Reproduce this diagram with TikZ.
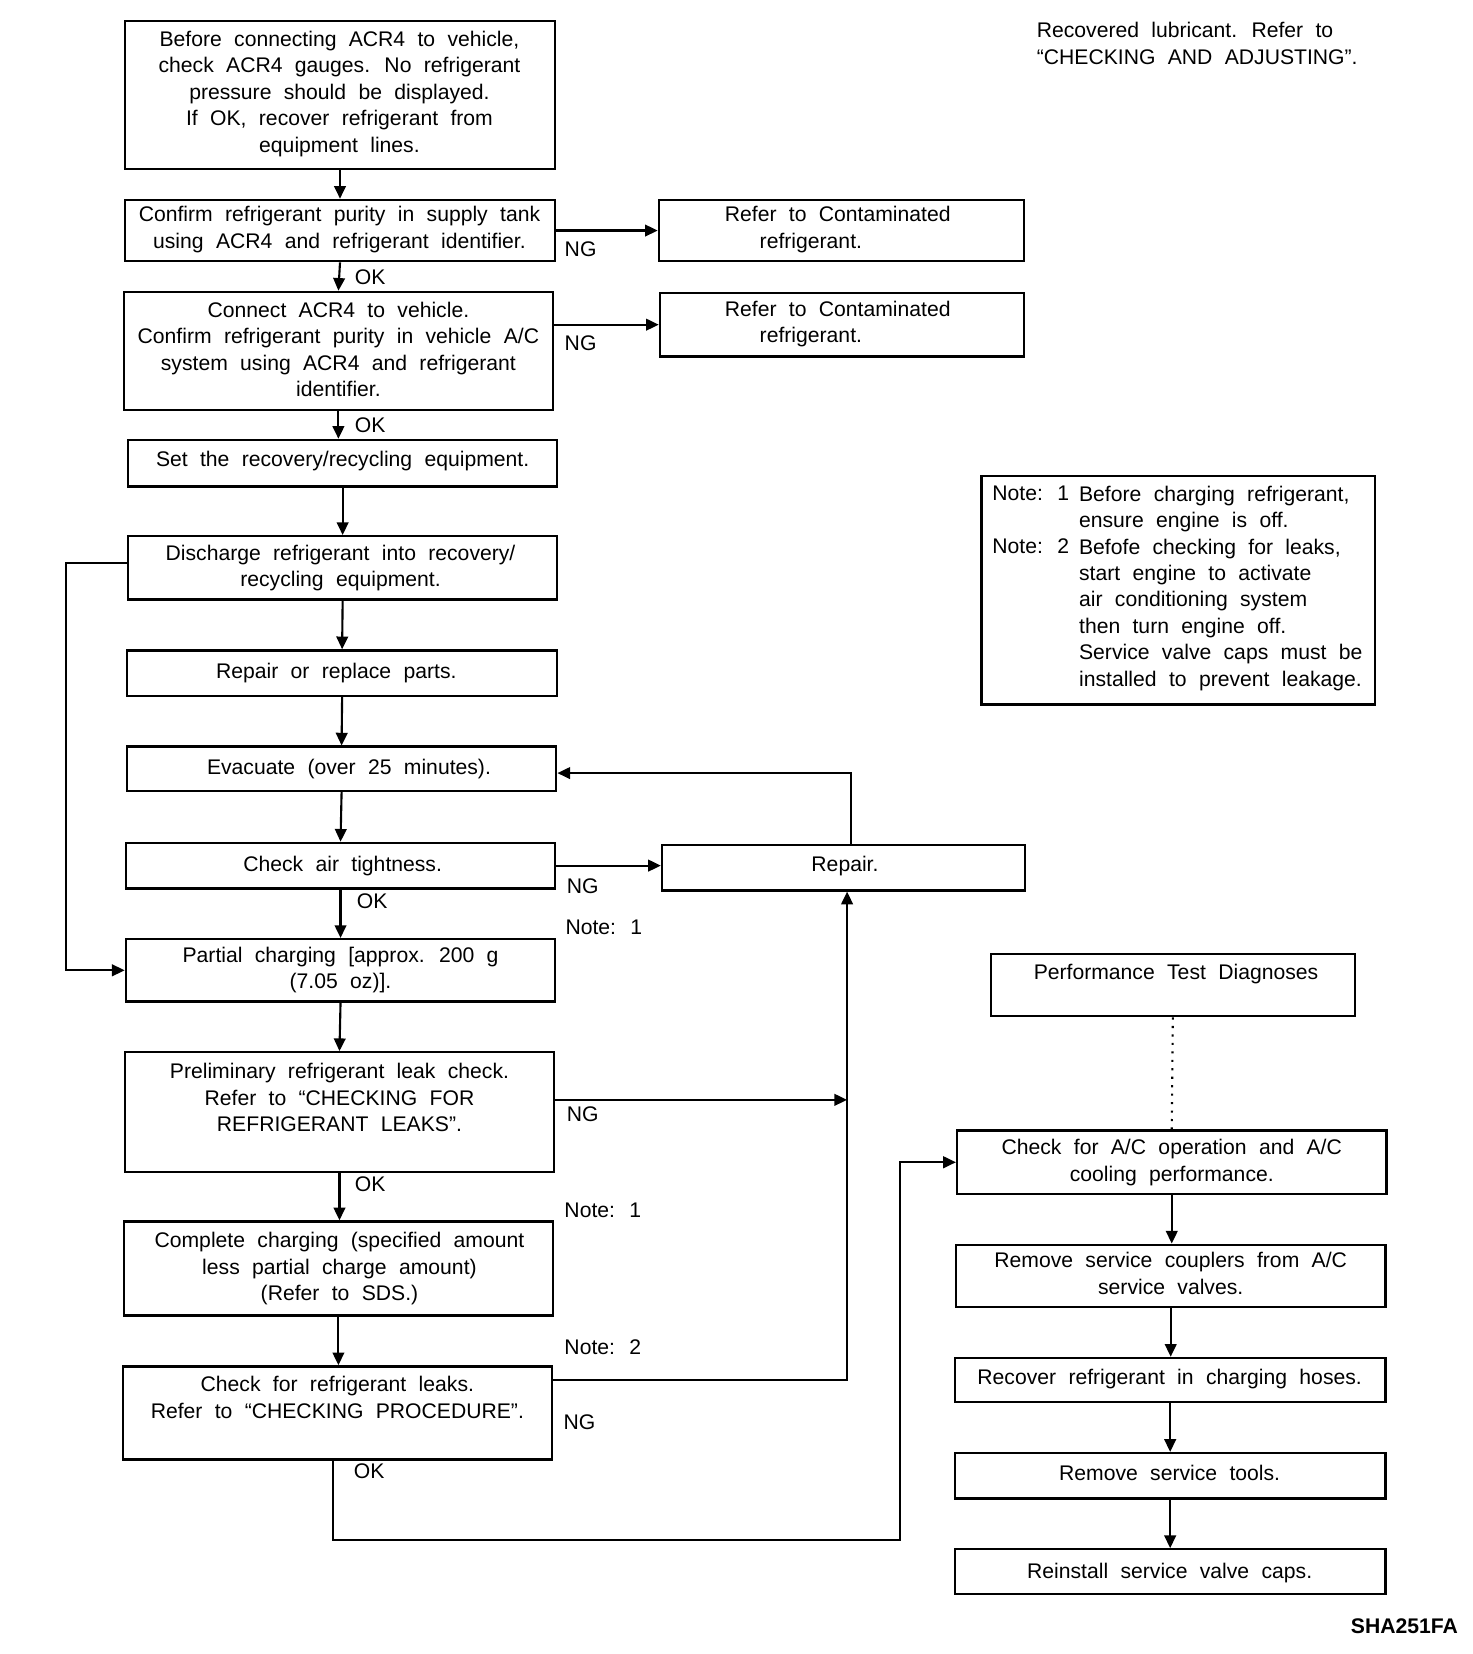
\documentclass[tikz,border=0pt]{standalone}
\usepackage{fontspec}
\setmainfont{Liberation Sans}[WordSpace=2.1]
\usetikzlibrary{arrows.meta,fit,calc}
\begin{document}
\begin{tikzpicture}[x=0.5pt,y=-0.5pt,
  box/.style={draw, line width=1.1pt, inner sep=0pt},
  txt/.style={font=\fontsize{10}{12.5}\selectfont, inner sep=0pt, align=center, anchor=north},
  ltxt/.style={font=\fontsize{10}{12.5}\selectfont, inner sep=0pt, align=left, anchor=north west},
  lbl/.style={font=\fontsize{10}{12.5}\selectfont, inner sep=0pt},
  arr/.style={line width=1pt, -{Triangle[length=6pt,width=5.5pt]}},
  ln/.style={line width=1pt}]

\useasboundingbox (0,0) rectangle (1392,1564);

% ---------- top right note ----------
\node[ltxt] (rec) at (980,21) {Recovered lubricant. Refer to\\“CHECKING AND ADJUSTING”.};

% ---------- left column boxes ----------
\node[box, fit={(118,20) (525,160)}] (A) {};
\node[txt] (tA) at (321,29) {Before connecting ACR4 to vehicle,\\check ACR4 gauges. No refrigerant\\pressure should be displayed.\\If OK, recover refrigerant from\\equipment lines.};

\node[box, fit={(118,189) (525,247)}] (B) {};
\node[txt] (tB) at (321,195) {Confirm refrigerant purity in supply tank\\using ACR4 and refrigerant identifier.};

\node[box, fit={(623,189) (968,247)}] (R1) {};
\node[ltxt] (tR1) at (685,195) {Refer to Contaminated\\\hspace*{16.5pt}refrigerant.};

\node[box, fit={(117,276) (523,388)}] (C) {};
\node[txt] (tC) at (320,285) {Connect ACR4 to vehicle.\\Confirm refrigerant purity in vehicle A/C\\system using ACR4 and refrigerant\\identifier.};

\node[box, fit={(624,277) (968,337)}] (R2) {};
\node[ltxt] (tR2) at (685,284) {Refer to Contaminated\\\hspace*{16.5pt}refrigerant.};

\node[box, fit={(121,416) (527,460)}] (D) {};
\node[txt] (tD) at (324,426) {Set the recovery/recycling equipment.};

\node[box, fit={(121,507) (527,567)}] (E) {};
\node[txt] (tE) at (322,515) {Discharge refrigerant into recovery/\\recycling equipment.};

\node[box, fit={(120,615) (527,658)}] (F) {};
\node[txt] (tF) at (318,627) {Repair or replace parts.};

\node[box, fit={(120,706) (526,748)}] (G) {};
\node[txt] (tG) at (330,717) {Evacuate (over 25 minutes).};

\node[box, fit={(119,797) (525,840)}] (H) {};
\node[txt] (tH) at (324,809) {Check air tightness.};

\node[box, fit={(626,799) (969,842)}] (Rep) {};
\node[txt] (tRep) at (799,809) {Repair.};

\node[box, fit={(119,888) (525,947)}] (I) {};
\node[txt] (tI) at (322,895) {Partial charging [approx. 200 g\\(7.05 oz)].};

\node[box, fit={(118,995) (524,1108)}] (J) {};
\node[txt] (tJ) at (321,1005) {Preliminary refrigerant leak check.\\Refer to “CHECKING FOR\\REFRIGERANT LEAKS”.};

\node[box, fit={(117,1155) (523,1244)}] (K) {};
\node[txt] (tK) at (321,1165) {Complete charging (specified amount\\less partial charge amount)\\(Refer to SDS.)};

\node[box, fit={(116,1292) (522,1380)}] (L) {};
\node[txt] (tL) at (319,1301) {Check for refrigerant leaks.\\Refer to “CHECKING PROCEDURE”.};

% ---------- right column ----------
\node[box, fit={(928,450) (1300,666)}] (Notes) {};
\node[ltxt] (n1) at (938,459) {Note: 1};
\node[ltxt] (n2) at (938,509) {Note: 2};
\node[ltxt] (nt) at (1020,459) {Before charging refrigerant,\\ensure engine is off.\\Befofe checking for leaks,\\start engine to activate\\air conditioning system\\then turn engine off.\\Service valve caps must be\\installed to prevent leakage.};

\node[box, fit={(937,902) (1281,961)}] (Perf) {};
\node[txt] (tPerf) at (1112,911) {Performance Test Diagnoses};

\node[box, fit={(905,1069) (1311,1129)}] (M) {};
\node[txt] (tM) at (1108,1077) {Check for A/C operation and A/C\\cooling performance.};

\node[box, fit={(904,1177) (1310,1236)}] (N) {};
\node[txt] (tN) at (1107,1184) {Remove service couplers from A/C\\service valves.};

\node[box, fit={(903,1284) (1310,1326)}] (O) {};
\node[txt] (tO) at (1106,1294) {Recover refrigerant in charging hoses.};

\node[box, fit={(903,1374) (1310,1417)}] (P) {};
\node[txt] (tP) at (1106,1385) {Remove service tools.};

\node[box, fit={(903,1465) (1310,1507)}] (Q) {};
\node[txt] (tQ) at (1106,1478) {Reinstall service valve caps.};

\node[lbl, font=\fontsize{10}{12}\selectfont\bfseries] (code) at (1328,1538) {SHA251FA};

% ---------- labels ----------
\node[lbl] (ok1) at (350,262) {OK};
\node[lbl] (ok2) at (350,402) {OK};
\node[lbl] (ng1) at (549,236) {NG};
\node[lbl] (ng2) at (549,325) {NG};
\node[lbl] (ng3) at (551,838) {NG};
\node[lbl] (ok3) at (352,852) {OK};
\node[lbl] (nn1) at (571,877) {Note: 1};
\node[lbl] (ng4) at (551,1054) {NG};
\node[lbl] (ok4) at (350,1120) {OK};
\node[lbl] (nn2) at (570,1144) {Note: 1};
\node[lbl] (nn3) at (570,1274) {Note: 2};
\node[lbl] (ng5) at (548,1345) {NG};
\node[lbl] (ok5) at (349,1391) {OK};

% ---------- connectors ----------
\draw[arr] (A.south) -- (B.north);
\draw[arr] (B.east) -- (R1.west);
\draw[arr] (B.south) -- (C.north);
\draw[arr] (C.east |- R2.west) -- (R2.west);
\draw[arr] (C.south) -- (C.south |- D.north);
\draw[arr] (D.south) -- (E.north);
\draw[arr] (E.south) -- (F.north);
\draw[arr] (F.south) -- (G.north);
\draw[arr] (G.south) -- (H.north);
\draw[arr] (H.east) -- (H.east -| Rep.west);
\coordinate (rt) at (805,731);
\draw[arr] (rt |- Rep.north) -- (rt) -- (G.east |- rt);
\draw[arr] (H.south) -- (I.north);
\coordinate (lp) at (62,532);
\draw[arr] (E.west |- lp) -- (lp) |- (I.west);
\draw[arr] (I.south) -- (J.north);
\coordinate (c2) at (801,1040);
\draw[arr] (J.east |- c2) -- (c2);
\draw[arr] (J.south) -- (J.south |- K.north);
\draw[arr] (K.south) -- (K.south |- L.north);
\coordinate (c1) at (801,1305);
\draw[arr] (L.east |- c1) -- (c1) -- (c1 |- Rep.south);
\coordinate (c3) at (851,1456);
\coordinate (okx) at (315,1380);
\draw[arr] (okx) |- (c3) |- (M.west);
\draw[line width=1pt, dash pattern=on 1pt off 3pt] (Perf.south) -- (M.north);
\draw[arr] (M.south) -- (M.south |- N.north);
\draw[arr] (N.south) -- (N.south |- O.north);
\draw[arr] (O.south) -- (O.south |- P.north);
\draw[arr] (P.south) -- (P.south |- Q.north);
\end{tikzpicture}
\end{document}
